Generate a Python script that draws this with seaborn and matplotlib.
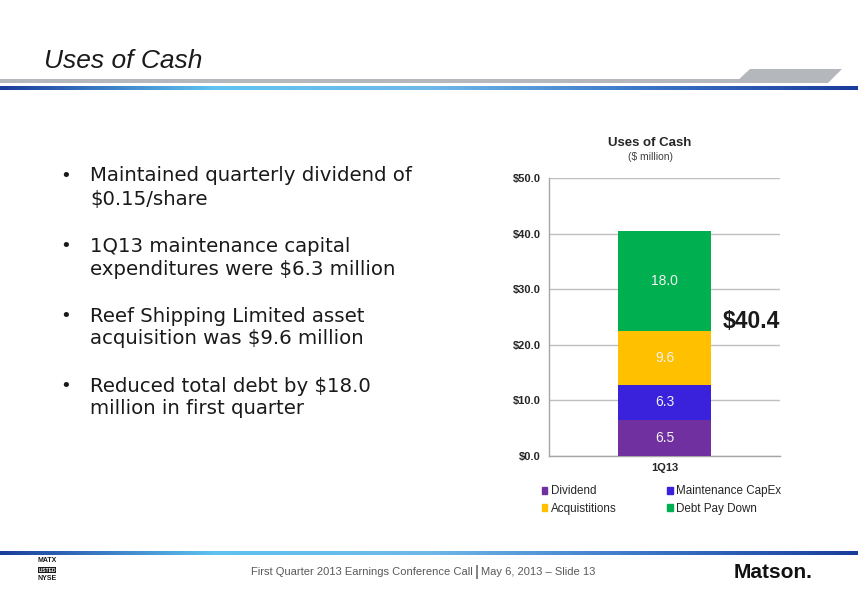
import numpy as np
import pandas as pd
import matplotlib
matplotlib.use("Agg")
import matplotlib.pyplot as plt
import seaborn as sns
from matplotlib.colors import LinearSegmentedColormap
from matplotlib.patches import Polygon, Rectangle

# ---- data ----
categories = ["1Q13"]
series_names = ["Dividend", "Maintenance CapEx", "Acquistitions", "Debt Pay Down"]
series_values = [6.5, 6.3, 9.6, 18.0]
series_colors = ["#7030A0", "#3A22DC", "#FFC000", "#00B050"]
total_label = "$40.4"
y_ticks = [0, 10, 20, 30, 40, 50]
bullets = [
    ("Maintained quarterly dividend of", "$0.15/share"),
    ("1Q13 maintenance capital", "expenditures were $6.3 million"),
    ("Reef Shipping Limited asset", "acquisition was $9.6 million"),
    ("Reduced total debt by $18.0", "million in first quarter"),
]

sns.set_theme(style="white")
plt.rcParams['font.family'] = ['Liberation Sans', 'DejaVu Sans']

W, H = 858, 591
fig = plt.figure(figsize=(W / 100, H / 100), dpi=100)
fig.patch.set_facecolor("white")

def fx(x): return x / W
def fy(y): return 1 - y / H

# ---- header ----
fig.text(fx(44), fy(61), "Uses of Cash", fontsize=19, style="italic",
         color="#1a1a1a", va="center", ha="left")
fig.patches.append(Rectangle((0, fy(83)), fx(760), (fy(79) - fy(83)),
                             transform=fig.transFigure, color="#B4B8BC", lw=0))
fig.patches.append(Polygon([(fx(735), fy(83)), (fx(750), fy(69)), (fx(842), fy(69)),
                            (fx(828), fy(83))], closed=True,
                           transform=fig.transFigure, color="#B4B8BC", lw=0))
cmap = LinearSegmentedColormap.from_list(
    "bl", ["#1A3C9C", "#5FC3F0", "#6FB8E8", "#3B76C8", "#1A3C9C"])
grad = np.linspace(0, 1, 256).reshape(1, -1)
for ytop in (86, 551):
    gax = fig.add_axes([0, fy(ytop + 4), 1, 4 / H])
    gax.imshow(grad, aspect="auto", cmap=cmap)
    gax.set_axis_off()

# ---- bullets ----
by = 176
for l1, l2 in bullets:
    fig.text(fx(60), fy(by), "•", fontsize=13, color="#1a1a1a", va="center",
             family="DejaVu Sans")
    fig.text(fx(90), fy(by), l1, fontsize=14.2, color="#1a1a1a", va="center",
             family="DejaVu Sans")
    fig.text(fx(90), fy(by + 23), l2, fontsize=14.2, color="#1a1a1a", va="center",
             family="DejaVu Sans")
    by += 70

# ---- chart ----
ax = fig.add_axes([fx(549), fy(456), fx(780) - fx(549), fy(178) - fy(456)])
df = pd.DataFrame({"category": categories * len(series_names),
                   "series": series_names,
                   "value": series_values})
bottoms = np.concatenate([[0], np.cumsum(series_values)[:-1]])
for i, (name, val) in enumerate(zip(series_names, series_values)):
    sub = df[df["series"] == name]
    sns.barplot(data=sub, x="category", y="value", ax=ax, color=series_colors[i],
                bottom=bottoms[i], width=0.4, saturation=1, label=name,
                edgecolor="none", linewidth=0, zorder=3)
    ax.text(0, bottoms[i] + val / 2, f"{val:.1f}", ha="center", va="center",
            color="#F2F2F2", fontsize=10, zorder=4)

ax.set_xlim(-0.5, 0.5)
ax.set_ylim(0, 50)
ax.set_yticks(y_ticks)
ax.set_yticklabels([f"${v:.1f}" for v in y_ticks], fontsize=8, fontweight="bold",
                   color="#262626")
ax.tick_params(axis="x", labelsize=8, colors="#262626", length=0, pad=5)
for lab in ax.get_xticklabels():
    lab.set_fontweight("bold")
ax.tick_params(axis="y", length=0, pad=6)
ax.set_xlabel("")
ax.set_ylabel("")
ax.grid(axis="y", color="#BFBFBF", lw=1, zorder=0)
for s in ["top", "right"]:
    ax.spines[s].set_visible(False)
for s in ["left", "bottom"]:
    ax.spines[s].set_color("#A6A6A6")
    ax.spines[s].set_linewidth(1)
if ax.legend_:
    ax.legend_.remove()

fig.text(fx(723), fy(321), total_label, fontsize=16.5, fontweight="bold",
         color="#1a1a1a", ha="left", va="center")

fig.text(fx(650), fy(143), "Uses of Cash", fontsize=9.5, fontweight="bold",
         color="#262626", ha="center", va="center")
fig.text(fx(650), fy(157), "($ million)", fontsize=7.5, color="#404040",
         ha="center", va="center")

# legend
handles = [Rectangle((0, 0), 1, 1, color=c) for c in series_colors]
leg = fig.legend([handles[0], handles[2], handles[1], handles[3]],
                 [series_names[0], series_names[2], series_names[1], series_names[3]],
                 ncol=2, loc="center left", bbox_to_anchor=(fx(531), fy(500)),
                 frameon=False, fontsize=8.4, handlelength=0.5, handleheight=0.5,
                 handletextpad=0.3, columnspacing=4.3, labelspacing=0.45)
for t in leg.get_texts():
    t.set_color("#262626")

# ---- footer ----
fig.text(fx(473), fy(572), "First Quarter 2013 Earnings Conference Call", fontsize=8,
         color="#595959", ha="right", va="center")
fig.text(fx(475), fy(572), "|", fontsize=11, color="#404040", ha="left", va="center")
fig.text(fx(481), fy(572), "May 6, 2013 \u2013 Slide 13", fontsize=8,
         color="#595959", ha="left", va="center")
fig.text(fx(47), fy(561), "MATX", fontsize=5, fontweight="bold", ha="center",
         va="center", color="#1a1a1a")
fig.text(fx(47), fy(570), "LISTED", fontsize=3.5, fontweight="bold", ha="center",
         va="center", color="white",
         bbox=dict(boxstyle="square,pad=0.15", fc="#1a1a1a", ec="none"))
fig.text(fx(47), fy(579), "NYSE", fontsize=5, fontweight="bold", ha="center",
         va="center", color="#1a1a1a")
fig.text(fx(773), fy(572), "Matson.", fontsize=15, fontweight="bold", ha="center",
         va="center", color="#111111")

fig.savefig("out.png", dpi=100)
